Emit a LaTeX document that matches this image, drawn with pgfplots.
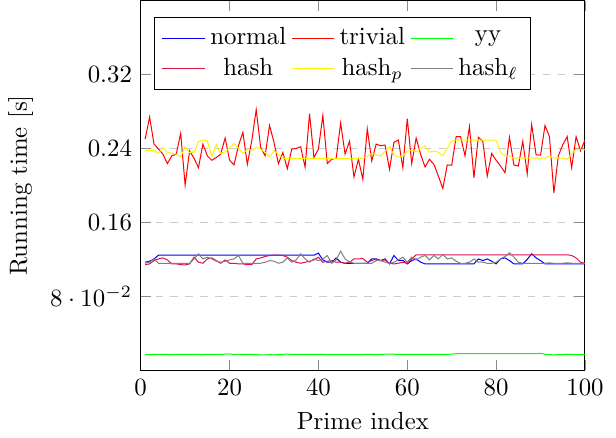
\documentclass[border=0pt]{standalone}
\usepackage{pgfplots}
\usepackage{pgfplotstable}
\pgfplotsset{compat=1.18}
\definecolor{crimson}{RGB}{220,20,70}
\pgfplotstableread{
x normal trivial yy hash hashp hashl
1 0.1169 0.2502 0.0172 0.1143 0.2382 0.1158
2 0.1180 0.2740 0.0170 0.1151 0.2374 0.1169
3 0.1205 0.2447 0.0172 0.1187 0.2382 0.1205
4 0.1245 0.2393 0.0171 0.1205 0.2349 0.1158
5 0.1245 0.2338 0.0173 0.1216 0.2411 0.1158
6 0.1245 0.2236 0.0171 0.1194 0.2356 0.1158
7 0.1245 0.2320 0.0170 0.1151 0.2349 0.1158
8 0.1245 0.2338 0.0172 0.1151 0.2338 0.1158
9 0.1245 0.2564 0.0173 0.1143 0.2309 0.1158
10 0.1245 0.2002 0.0171 0.1140 0.2418 0.1158
11 0.1245 0.2374 0.0172 0.1151 0.2356 0.1158
12 0.1245 0.2294 0.0174 0.1224 0.2356 0.1205
13 0.1245 0.2192 0.0172 0.1169 0.2473 0.1260
14 0.1245 0.2447 0.0170 0.1158 0.2491 0.1205
15 0.1245 0.2320 0.0173 0.1205 0.2484 0.1224
16 0.1245 0.2272 0.0171 0.1216 0.2312 0.1205
17 0.1245 0.2301 0.0174 0.1187 0.2440 0.1180
18 0.1245 0.2338 0.0171 0.1158 0.2345 0.1169
19 0.1245 0.2513 0.0175 0.1194 0.2364 0.1180
20 0.1245 0.2272 0.0178 0.1158 0.2404 0.1194
21 0.1245 0.2221 0.0170 0.1158 0.2455 0.1205
22 0.1245 0.2429 0.0174 0.1151 0.2400 0.1242
23 0.1245 0.2575 0.0173 0.1151 0.2349 0.1158
24 0.1245 0.2228 0.0173 0.1143 0.2385 0.1158
25 0.1245 0.2484 0.0172 0.1143 0.2382 0.1158
26 0.1245 0.2820 0.0169 0.1205 0.2411 0.1158
27 0.1245 0.2411 0.0168 0.1216 0.2393 0.1158
28 0.1245 0.2320 0.0168 0.1231 0.2356 0.1169
29 0.1245 0.2648 0.0169 0.1242 0.2309 0.1187
30 0.1245 0.2466 0.0168 0.1245 0.2374 0.1180
31 0.1245 0.2236 0.0170 0.1245 0.2338 0.1158
32 0.1245 0.2356 0.0172 0.1242 0.2294 0.1169
33 0.1245 0.2181 0.0176 0.1224 0.2290 0.1216
34 0.1245 0.2393 0.0172 0.1187 0.2290 0.1169
35 0.1245 0.2400 0.0171 0.1169 0.2290 0.1194
36 0.1245 0.2418 0.0173 0.1158 0.2290 0.1260
37 0.1245 0.2199 0.0172 0.1169 0.2290 0.1205
38 0.1245 0.2776 0.0173 0.1180 0.2290 0.1169
39 0.1245 0.2301 0.0172 0.1194 0.2290 0.1205
40 0.1268 0.2393 0.0171 0.1224 0.2290 0.1187
41 0.1194 0.2758 0.0172 0.1169 0.2290 0.1205
42 0.1169 0.2236 0.0170 0.1180 0.2290 0.1242
43 0.1169 0.2283 0.0169 0.1187 0.2290 0.1158
44 0.1216 0.2294 0.0169 0.1169 0.2290 0.1194
45 0.1169 0.2674 0.0169 0.1169 0.2290 0.1289
46 0.1158 0.2338 0.0170 0.1158 0.2290 0.1205
47 0.1158 0.2477 0.0170 0.1169 0.2288 0.1169
48 0.1158 0.2090 0.0169 0.1205 0.2290 0.1158
49 0.1158 0.2283 0.0170 0.1205 0.2290 0.1158
50 0.1158 0.2064 0.0171 0.1209 0.2295 0.1158
51 0.1158 0.2612 0.0173 0.1169 0.2310 0.1158
52 0.1205 0.2265 0.0172 0.1187 0.2350 0.1158
53 0.1205 0.2447 0.0170 0.1205 0.2330 0.1187
54 0.1187 0.2429 0.0172 0.1187 0.2320 0.1187
55 0.1205 0.2437 0.0174 0.1194 0.2370 0.1169
56 0.1151 0.2174 0.0176 0.1158 0.2420 0.1158
57 0.1242 0.2466 0.0174 0.1151 0.2330 0.1169
58 0.1187 0.2491 0.0172 0.1158 0.2305 0.1194
59 0.1190 0.2192 0.0173 0.1169 0.2320 0.1224
60 0.1151 0.2721 0.0172 0.1158 0.2370 0.1169
61 0.1187 0.2236 0.0171 0.1205 0.2380 0.1224
62 0.1205 0.2513 0.0172 0.1250 0.2365 0.1194
63 0.1170 0.2338 0.0171 0.1250 0.2395 0.1224
64 0.1151 0.2199 0.0173 0.1250 0.2430 0.1242
65 0.1151 0.2283 0.0172 0.1250 0.2360 0.1194
66 0.1151 0.2228 0.0174 0.1250 0.2370 0.1242
67 0.1151 0.2101 0.0172 0.1250 0.2360 0.1205
68 0.1151 0.1966 0.0171 0.1250 0.2320 0.1253
69 0.1151 0.2221 0.0173 0.1250 0.2400 0.1205
70 0.1151 0.2218 0.0175 0.1250 0.2480 0.1216
71 0.1151 0.2528 0.0180 0.1250 0.2491 0.1180
72 0.1151 0.2528 0.0180 0.1250 0.2491 0.1158
73 0.1151 0.2320 0.0180 0.1250 0.2491 0.1158
74 0.1151 0.2637 0.0180 0.1250 0.2491 0.1169
75 0.1151 0.2082 0.0180 0.1250 0.2491 0.1205
76 0.1205 0.2520 0.0180 0.1250 0.2491 0.1169
77 0.1187 0.2477 0.0180 0.1250 0.2491 0.1169
78 0.1205 0.2101 0.0180 0.1250 0.2491 0.1158
79 0.1180 0.2345 0.0180 0.1250 0.2491 0.1158
80 0.1151 0.2272 0.0180 0.1250 0.2491 0.1169
81 0.1205 0.2210 0.0180 0.1250 0.2356 0.1205
82 0.1216 0.2137 0.0180 0.1250 0.2320 0.1231
83 0.1187 0.2520 0.0180 0.1250 0.2320 0.1271
84 0.1151 0.2221 0.0180 0.1250 0.2294 0.1224
85 0.1151 0.2210 0.0180 0.1250 0.2294 0.1169
86 0.1151 0.2477 0.0180 0.1250 0.2294 0.1158
87 0.1200 0.2126 0.0180 0.1250 0.2294 0.1158
88 0.1260 0.2659 0.0180 0.1250 0.2294 0.1158
89 0.1216 0.2331 0.0180 0.1250 0.2294 0.1158
90 0.1187 0.2327 0.0184 0.1250 0.2294 0.1158
91 0.1151 0.2648 0.0174 0.1250 0.2294 0.1158
92 0.1151 0.2528 0.0169 0.1250 0.2320 0.1162
93 0.1151 0.1918 0.0168 0.1250 0.2294 0.1158
94 0.1151 0.2320 0.0169 0.1250 0.2294 0.1158
95 0.1151 0.2440 0.0170 0.1250 0.2294 0.1158
96 0.1151 0.2528 0.0174 0.1250 0.2283 0.1162
97 0.1151 0.2192 0.0172 0.1242 0.2338 0.1158
98 0.1151 0.2528 0.0170 0.1216 0.2393 0.1158
99 0.1151 0.2374 0.0169 0.1169 0.2393 0.1158
100 0.1151 0.2491 0.0169 0.1158 0.2385 0.1158
}\datatable
\begin{document}
\begin{tikzpicture}
\begin{axis}[
  scale only axis,
  width=179pt, height=149pt,
  xmin=0, xmax=100, ymin=0, ymax=0.4,
  xtick={0,20,40,60,80,100},
  ytick={0.08,0.16,0.24,0.32},
  ymajorgrids,
  major grid style={dashed, black!20},
  major tick style={black!45},
  xlabel={Prime index},
  ylabel={Running time [s]},
  legend columns=3,
  legend cell align=center,
  legend style={at={(0.03,0.955)}, anchor=north west, draw=black},
]
\addplot[blue, no marks] table[x=x, y=normal] {\datatable};
\addlegendentry{normal}
\addplot[red, no marks] table[x=x, y=trivial] {\datatable};
\addlegendentry{trivial}
\addplot[green, no marks] table[x=x, y=yy] {\datatable};
\addlegendentry{yy}
\addplot[crimson, no marks] table[x=x, y=hash] {\datatable};
\addlegendentry{hash}
\addplot[yellow, no marks] table[x=x, y=hashp] {\datatable};
\addlegendentry{hash$_p$}
\addplot[gray, no marks] table[x=x, y=hashl] {\datatable};
\addlegendentry{hash$_\ell$}
\end{axis}
\path (current axis.south east) -- ++(12.5pt,0);
\end{tikzpicture}
\end{document}
